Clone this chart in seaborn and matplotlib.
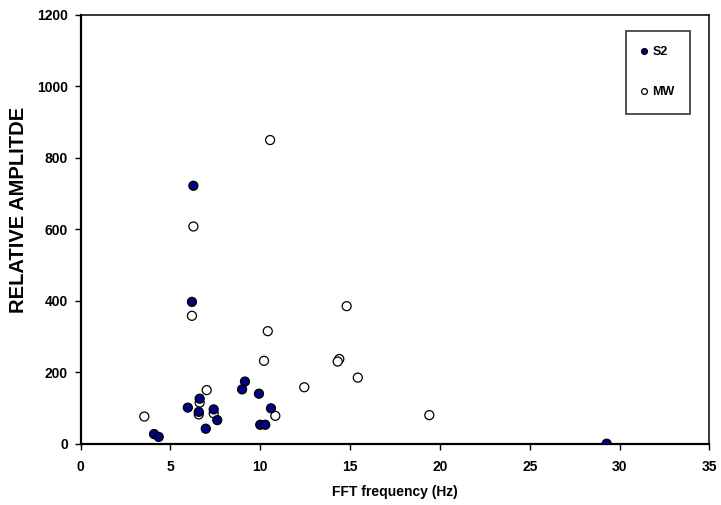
import matplotlib
matplotlib.use("Agg")
import matplotlib.pyplot as plt
import seaborn as sns
import pandas as pd

# S2 series (filled)
s2_freq = [4.09, 4.35, 5.97, 6.63, 6.58, 6.97, 7.41, 7.61, 8.99, 9.15, 9.93, 10.0, 10.28, 10.60, 6.28, 6.20, 29.28]
s2_amp = [27, 19, 101, 126, 89, 42, 96, 66, 152, 174, 140, 53, 53, 99, 722, 397, 0]
# MW series (open)
mw_freq = [3.55, 6.63, 6.58, 7.02, 7.41, 10.84, 10.21, 10.55, 6.28, 6.20, 14.81, 10.42, 14.40, 14.31, 15.43, 12.45, 19.41]
mw_amp = [76, 115, 82, 150, 85, 78, 232, 850, 608, 358, 385, 315, 237, 230, 185, 158, 80]

x_ticks = [0, 5, 10, 15, 20, 25, 30, 35]
y_ticks = [0, 200, 400, 600, 800, 1000, 1200]

sns.set_style("white")
plt.rcParams['font.family'] = ['Liberation Sans', 'DejaVu Sans']
plt.rcParams.update({"text.color": "black", "axes.labelcolor": "black",
                     "xtick.color": "black", "ytick.color": "black"})

df = pd.DataFrame({
    "freq": mw_freq + s2_freq,
    "amp": mw_amp + s2_amp,
    "series": ["MW"] * len(mw_freq) + ["S2"] * len(s2_freq),
})

fig = plt.figure(figsize=(7.21, 5.05), dpi=100)
ax = fig.add_axes([0.1117, 0.1214, 0.8723, 0.8489])

sns.scatterplot(data=df, x="freq", y="amp", hue="series",
                hue_order=["S2", "MW"],
                palette={"S2": "#000080", "MW": "white"},
                edgecolor="black", linewidth=0.9, s=42, ax=ax, zorder=3)

ax.set_xlim(0, 35)
ax.set_ylim(0, 1200)
ax.set_xticks(x_ticks)
ax.set_yticks(y_ticks)
ax.set_xticklabels([str(v) for v in x_ticks], fontsize=10, fontweight="bold")
ax.set_yticklabels([str(v) for v in y_ticks], fontsize=10, fontweight="bold")
ax.tick_params(axis="x", direction="out", length=4, width=1, color="black", pad=8, bottom=True)
ax.tick_params(axis="y", direction="out", length=4, width=1, color="black", pad=5, left=True)
ax.set_xlabel("FFT frequency (Hz)", fontsize=10, fontweight="bold", labelpad=8)
ax.set_ylabel("RELATIVE AMPLITDE", fontsize=14.5, fontweight="bold")
ax.yaxis.set_label_coords(-0.084, 0.545)

for side in ["left", "bottom"]:
    ax.spines[side].set_linewidth(1.6)
    ax.spines[side].set_color("black")
for side in ["top", "right"]:
    ax.spines[side].set_linewidth(1.1)
    ax.spines[side].set_color("black")

handles, labels = ax.get_legend_handles_labels()
leg = ax.legend(handles, labels, loc="upper left",
                bbox_to_anchor=(0.8668, 0.963), frameon=True, fancybox=False,
                edgecolor="black", prop={"weight": "bold", "size": 9},
                handletextpad=0.45, handlelength=0.45, labelspacing=2.24,
                borderpad=1.25, borderaxespad=0, markerscale=0.65)
leg.get_frame().set_linewidth(1.2)

fig.savefig("out.png", dpi=100)
